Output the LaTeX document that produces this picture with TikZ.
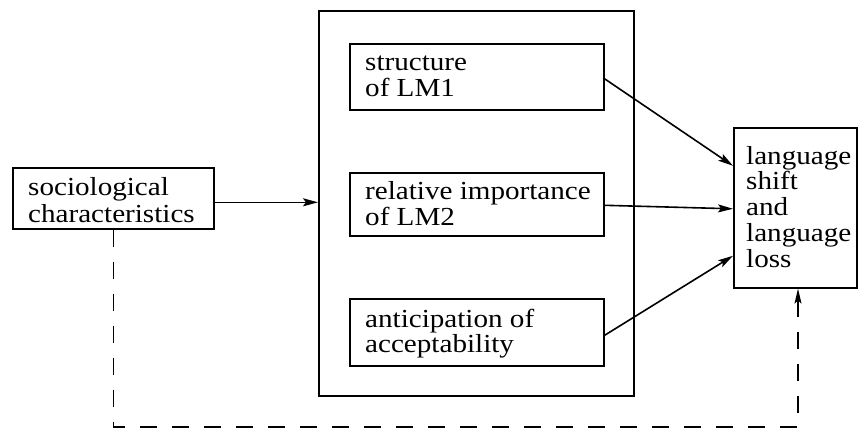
\documentclass[tikz,border=0pt]{standalone}
\usepackage{fontspec}
\setmainfont{Liberation Serif}[FakeStretch=1.12]
\usetikzlibrary{arrows.meta,calc}
\begin{document}
\begin{tikzpicture}[x=1pt,y=-1pt,
  box/.style={draw,line width=1.6pt,rectangle,anchor=north west,inner sep=0pt},
  txt/.style={anchor=base west,inner sep=0pt,font=\fontsize{26}{26}\selectfont},
  arr/.style={line width=1.6pt,-{Stealth[length=15pt,width=8pt,inset=3pt]}},
  dsh/.style={line width=1.4pt,dash pattern=on 17pt off 15pt,-{Stealth[length=15pt,width=7pt,inset=3pt]}}]
\useasboundingbox (0,0) rectangle (858,434);
\node[box,minimum width=315pt,minimum height=385pt] (big) at (318,10) {};
\node[box,minimum width=254pt,minimum height=66pt] (b1) at (349,43) {};
\node[box,minimum width=254pt,minimum height=63pt] (b2) at (349,172) {};
\node[box,minimum width=254pt,minimum height=67pt] (b3) at (349,298) {};
\node[box,minimum width=201pt,minimum height=61pt] (soc) at (12,167) {};
\node[box,minimum width=123pt,minimum height=160pt] (rb) at (733,127) {};
\node[txt] (t1) at (365,70) {\vtop{\baselineskip=26pt\hbox{structure}\hbox{of LM1}}};
\node[txt] (t2) at (365,199) {\vtop{\baselineskip=26.5pt\hbox{relative importance}\hbox{of LM2}}};
\node[txt] (t3) at (365,327) {\vtop{\baselineskip=25.5pt\hbox{anticipation of}\hbox{acceptability}}};
\node[txt] (ts) at (28,195) {\vtop{\baselineskip=27pt\hbox{sociological}\hbox{characteristics}}};
\node[txt] (tr) at (746,164) {\vtop{\baselineskip=25.8pt\hbox{language}\hbox{shift}\hbox{and}\hbox{language}\hbox{loss}}};
\draw[arr] ([yshift=-4pt]soc.east) -- ([yshift=-4pt]soc.east -| big.west);
\draw[arr] ([yshift=-2pt]b1.east) -- ([yshift=42pt]rb.west);
\draw[arr] ([yshift=-1pt]b2.east) -- ([yshift=-1pt]rb.west);
\draw[arr] ([yshift=-3pt]b3.east) -- ([yshift=-48pt]rb.west);
\coordinate (dc) at (798,427);
\draw[dsh] (soc.south) |- (dc) -- (dc |- rb.south);
\end{tikzpicture}
\end{document}
